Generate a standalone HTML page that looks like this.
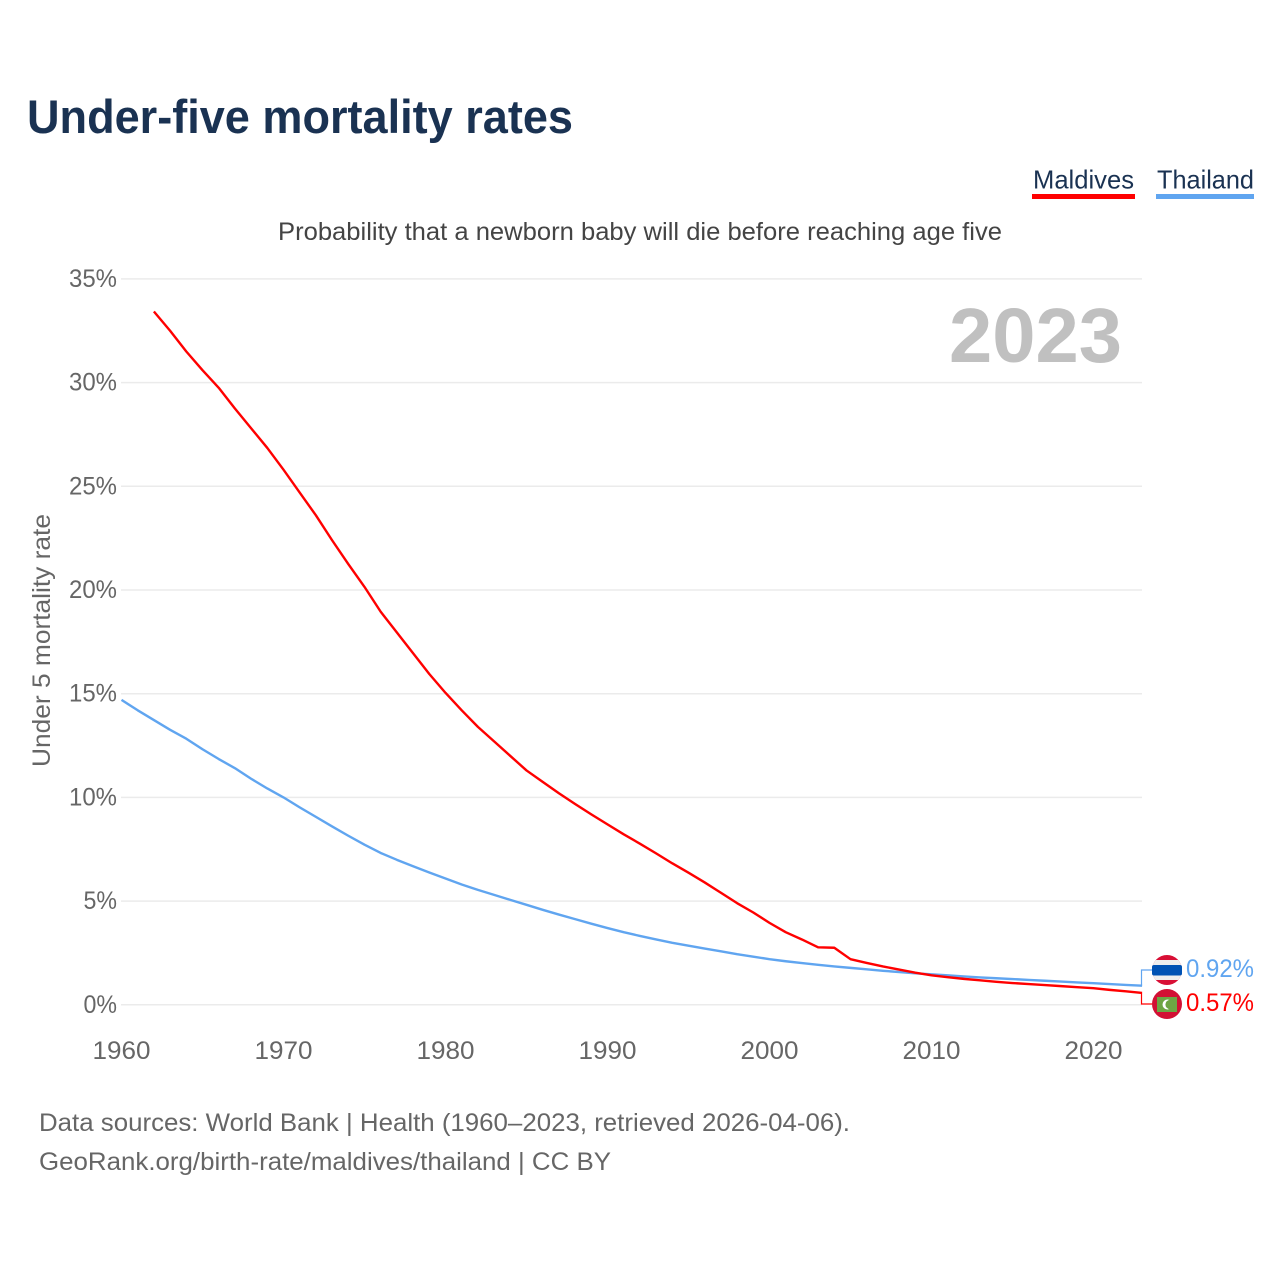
<!DOCTYPE html>
<html lang="en">
<head>
<meta charset="utf-8">
<title>Under-five mortality rates</title>
<style>
html,body{margin:0;padding:0;background:#fff;}
svg{display:block;font-family:"Liberation Sans",sans-serif;}
</style>
</head>
<body>
<svg id="chart" xmlns="http://www.w3.org/2000/svg" width="1280" height="1280" viewBox="0 0 1280 1280">
  <rect x="0" y="0" width="1280" height="1280" fill="#ffffff"/>
  <text x="27" y="133" font-size="47" font-weight="700" fill="#1a3252" textLength="546" lengthAdjust="spacingAndGlyphs">Under-five mortality rates</text>
  <g>
    <text x="1033" y="188.5" font-size="26" fill="#1a3252" textLength="101" lengthAdjust="spacingAndGlyphs">Maldives</text>
    <rect x="1032" y="194" width="103" height="5" fill="#ff0000"/>
  </g>
  <g>
    <text x="1157" y="188.5" font-size="26" fill="#1a3252" textLength="97" lengthAdjust="spacingAndGlyphs">Thailand</text>
    <rect x="1156" y="194" width="98" height="5" fill="#60a5f0"/>
  </g>
  <text x="278" y="240" font-size="25" fill="#444444" textLength="724" lengthAdjust="spacingAndGlyphs">Probability that a newborn baby will die before reaching age five</text>
  <text transform="translate(50 767) rotate(-90)" x="0" y="0" font-size="25" fill="#666666" textLength="253" lengthAdjust="spacingAndGlyphs">Under 5 mortality rate</text>
  <g id="grid"></g>
  <g id="yticks"></g>
  <g id="xticks"></g>
  <text x="949" y="362" font-size="77" font-weight="700" fill="#c0c0c0" textLength="173" lengthAdjust="spacingAndGlyphs">2023</text>
  <g id="series"></g>
  <g>
    <clipPath id="thai-clip"><circle cx="1167" cy="970" r="15"/></clipPath>
    <g clip-path="url(#thai-clip)">
      <rect x="1150" y="955" width="34" height="30" fill="#d80f35"/>
      <rect x="1150" y="960" width="34" height="20" fill="#eeeeee"/>
    </g>
    <rect x="1152" y="965" width="30" height="10.5" rx="2" fill="#0052b4"/>
  </g>
  <g>
    <circle cx="1167" cy="1004" r="15" fill="#d21034"/>
    <rect x="1157" y="997" width="20" height="15" fill="#6da544"/>
    <circle cx="1167.5" cy="1004.5" r="5" fill="#ffffff"/>
    <circle cx="1170" cy="1004.5" r="4.6" fill="#6da544"/>
  </g>
  <text x="39" y="1131" font-size="25" fill="#666666" textLength="811" lengthAdjust="spacingAndGlyphs">Data sources: World Bank | Health (1960–2023, retrieved 2026-04-06).</text>
  <text x="39" y="1170" font-size="25" fill="#666666" textLength="572" lengthAdjust="spacingAndGlyphs">GeoRank.org/birth-rate/maldives/thailand | CC BY</text>
</svg>
<script>
const years = [1960,1961,1962,1963,1964,1965,1966,1967,1968,1969,1970,1971,1972,1973,1974,1975,1976,1977,1978,1979,1980,1981,1982,1983,1984,1985,1986,1987,1988,1989,1990,1991,1992,1993,1994,1995,1996,1997,1998,1999,2000,2001,2002,2003,2004,2005,2006,2007,2008,2009,2010,2011,2012,2013,2014,2015,2016,2017,2018,2019,2020,2021,2022,2023];
const maldivesValues = [null,null,33.43,32.5,31.5,30.6,29.75,28.75,27.8,26.85,25.8,24.7,23.6,22.4,21.25,20.15,18.95,17.95,16.95,15.95,15.04,14.2,13.4,12.7,12.0,11.3,10.75,10.2,9.68,9.18,8.7,8.22,7.77,7.3,6.82,6.37,5.9,5.4,4.9,4.45,3.95,3.5,3.15,2.77,2.75,2.2,2.02,1.85,1.7,1.55,1.42,1.33,1.25,1.18,1.11,1.05,1.0,0.95,0.9,0.85,0.8,0.72,0.65,0.57];
const thailandValues = [14.7,14.2,13.73,13.26,12.83,12.32,11.85,11.41,10.9,10.43,10.0,9.52,9.06,8.6,8.15,7.72,7.32,6.99,6.68,6.38,6.09,5.8,5.54,5.3,5.06,4.82,4.58,4.35,4.13,3.91,3.7,3.5,3.32,3.15,2.99,2.85,2.71,2.58,2.44,2.32,2.2,2.1,2.01,1.93,1.85,1.78,1.71,1.64,1.58,1.52,1.47,1.42,1.37,1.32,1.28,1.24,1.2,1.16,1.12,1.08,1.04,1.0,0.96,0.92];
const yTickValues = [0,5,10,15,20,25,30,35];
const yTickLabels = ["0%","5%","10%","15%","20%","25%","30%","35%"];
const xTickValues = [1960,1970,1980,1990,2000,2010,2020];
const xTickLabels = ["1960","1970","1980","1990","2000","2010","2020"];

const NS = "http://www.w3.org/2000/svg";
const xScale = function (year) { return 121.5 + (year - 1960) * 16.2; };
const yScale = function (value) { return 1004.8 - value * 20.74; };
const svgRoot = document.getElementById("chart");
const gridGroup = document.getElementById("grid");
const yTickGroup = document.getElementById("yticks");
const xTickGroup = document.getElementById("xticks");
const seriesGroup = document.getElementById("series");

function make(tag, attrs, parent) {
  const el = document.createElementNS(NS, tag);
  Object.keys(attrs).forEach(function (k) { el.setAttribute(k, attrs[k]); });
  parent.appendChild(el);
  return el;
}

yTickValues.forEach(function (v, i) {
  const y = yScale(v);
  const line = make("line", {x1: 121, x2: 1142, y1: y, y2: y, stroke: "#ebebeb", "stroke-width": 1.5}, gridGroup);
  
  
  const label = make("text", {
    x: 117, y: y + 8, "font-size": 25, fill: "#666666", "text-anchor": "end",
    textLength: (yTickLabels[i].length - 1) * 14.5 + 19, lengthAdjust: "spacingAndGlyphs"
  }, yTickGroup);
  
  
  label.textContent = yTickLabels[i];
});

xTickValues.forEach(function (year, i) {
  const label = make("text", {
    x: xScale(year), y: 1059, "font-size": 25, fill: "#666666", "text-anchor": "middle",
    textLength: 58, lengthAdjust: "spacingAndGlyphs"
  }, xTickGroup);
  
  
  label.textContent = xTickLabels[i];
});

function pathFrom(values) {
  let d = "";
  values.forEach(function (v, i) {
    if (v === null) return;
    d += (d === "" ? "M" : "L") + xScale(years[i]).toFixed(2) + " " + yScale(v).toFixed(2);
  });
  return d;
}

const lastYear = years[years.length - 1];
const thaiLast = thailandValues[thailandValues.length - 1];
const maldivesLast = maldivesValues[maldivesValues.length - 1];
const endX = xScale(lastYear) - 0.6;

const thaiLine = make("path", {d: pathFrom(thailandValues), fill: "none", stroke: "#60a5f0", "stroke-width": 2.4, "stroke-linejoin": "round"}, seriesGroup);



const maldivesLine = make("path", {d: pathFrom(maldivesValues), fill: "none", stroke: "#ff0000", "stroke-width": 2.4, "stroke-linejoin": "round"}, seriesGroup);



const thaiConnector = make("path", {d: "M" + endX + " " + yScale(thaiLast) + "V970H1152", fill: "none", stroke: "#60a5f0", "stroke-width": 1.2}, seriesGroup);



const maldivesConnector = make("path", {d: "M" + endX + " " + yScale(maldivesLast) + "V1004H1152", fill: "none", stroke: "#ff0000", "stroke-width": 1.2}, seriesGroup);



const thaiValue = make("text", {x: 1186, y: 977, "font-size": 25, fill: "#60a5f0", textLength: 68, lengthAdjust: "spacingAndGlyphs"}, svgRoot);


thaiValue.textContent = thaiLast.toFixed(2) + "%";

const maldivesValue = make("text", {x: 1186, y: 1011, "font-size": 25, fill: "#ff0000", textLength: 68, lengthAdjust: "spacingAndGlyphs"}, svgRoot);


maldivesValue.textContent = maldivesLast.toFixed(2) + "%";
</script>
</body>
</html>
